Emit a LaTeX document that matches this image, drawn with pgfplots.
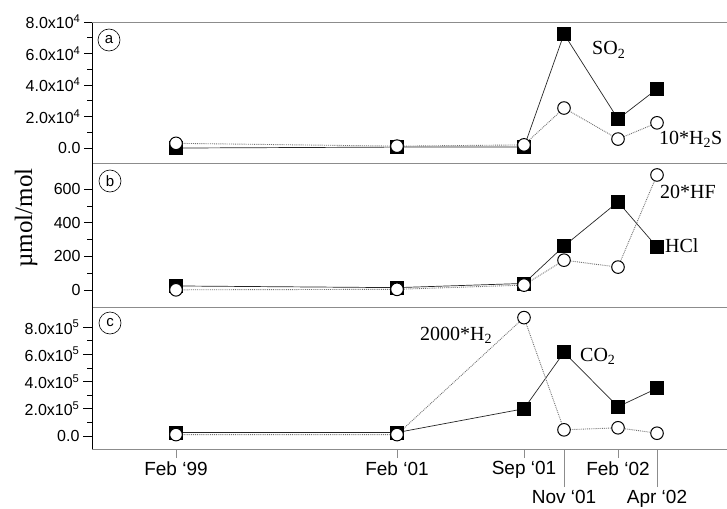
\documentclass[border=0pt]{standalone}
\usepackage{pgfplots}
\pgfplotsset{compat=1.18}
\usepackage{fontspec}
\setmainfont{Liberation Serif}
\setsansfont{Liberation Sans}
\begin{document}
\begin{tikzpicture}
\useasboundingbox (0pt,0pt) rectangle (727pt,-508pt);
\pgfplotsset{
  panel/.style={
    scale only axis, width=635pt, xmin=92, xmax=727,
    axis x line=bottom, axis y line=left,
    axis line style={-},
    x axis line style={black!45, line width=0.8pt},
    y axis line style={black, line width=1pt},
    tick align=outside, ytick pos=left,
    major tick length=8pt, minor tick length=5pt,
    minor y tick num=1,
    every tick/.style={black, line width=0.8pt},
    yticklabel style={font=\sffamily\fontsize{16}{16}\selectfont},
    /pgf/number format/assume math mode=true,
    scaled y ticks=false,
    xtick=\empty,
    clip=false,
  },
  sq/.style={black!85, line width=0.7pt, mark=square*, mark size=6.5pt, mark options={solid, fill=black, draw=black}},
  ci/.style={black!55, line width=0.9pt, densely dotted, mark=*, mark size=6.3pt, mark options={solid, fill=white, draw=black, line width=1pt}},
}
% panel a
\begin{axis}[panel, at={(92pt,-22pt)}, anchor=north west, height=141pt,
  ymin=-9500, ymax=80000,
  ytick={0,20000,40000,60000,80000},
  yticklabels={0.0, 2.0x10\textsuperscript{4}, 4.0x10\textsuperscript{4}, 6.0x10\textsuperscript{4}, 8.0x10\textsuperscript{4}}]
\addplot[sq] coordinates {(176,0) (397,600) (524,600) (564,72400) (618,18400) (657,37500)};
\addplot[ci] coordinates {(176,3000) (397,1200) (524,2000) (564,25400) (618,5700) (657,16000)};
\end{axis}
% panel b
\begin{axis}[panel, at={(92pt,-163pt)}, anchor=north west, height=144pt,
  ymin=-100, ymax=755,
  ytick={0,200,400,600},
  yticklabels={0,200,400,600}]
\addplot[sq] coordinates {(176,25) (397,15) (524,40) (564,262) (618,524) (657,256)};
\addplot[ci] coordinates {(176,2) (397,5) (524,30) (564,178) (618,137) (657,684)};
\end{axis}
% panel c
\begin{axis}[panel, at={(92pt,-307pt)}, anchor=north west, height=142pt,
  ymin=-96000, ymax=948000,
  ytick={0,200000,400000,600000,800000},
  yticklabels={0.0, 2.0x10\textsuperscript{5}, 4.0x10\textsuperscript{5}, 6.0x10\textsuperscript{5}, 8.0x10\textsuperscript{5}},
  major tick length=9pt,
  xtick={176,397,524,618},
  xticklabels={Feb `99, Feb `01, Sep `01, Feb `02},
  xticklabel style={font=\sffamily\fontsize{19}{19}\selectfont},
  x tick style={black!45, line width=0.8pt},
  extra x ticks={564,657},
  extra x tick labels={Nov `01, Apr `02},
  extra x tick style={major tick length=38pt, x tick style={black!45, line width=0.8pt}},
  ]
\addplot[sq] coordinates {(176,25000) (397,25000) (524,200000) (564,615000) (618,215000) (657,350000)};
\addplot[ci] coordinates {(176,10000) (397,10000) (524,870000) (564,45000) (618,60000) (657,20000)};
\end{axis}
\draw[black!45, line width=0.8pt] (92pt,-22pt) -- (727pt,-22pt);
% annotations
\begin{scope}[every node/.style={font=\fontsize{20}{20}\selectfont, inner sep=0pt}]
\node[anchor=base west] at (592pt,-55pt) {SO\textsubscript{2}};
\node[anchor=base west] at (659pt,-144pt) {10*H\textsubscript{2}S};
\node[anchor=base west] at (660pt,-198pt) {20*HF};
\node[anchor=base west] at (665pt,-252pt) {HCl};
\node[anchor=base west] at (420pt,-340pt) {2000*H\textsubscript{2}};
\node[anchor=base west] at (580pt,-361pt) {CO\textsubscript{2}};
\end{scope}
\node[rotate=90, font=\fontsize{25}{25}\selectfont] at (26pt,-218pt) {µmol/mol};
\begin{scope}[every node/.style={circle, draw, line width=0.6pt, minimum size=22pt, inner sep=0pt, font=\sffamily\fontsize{15}{15}\selectfont}]
\node at (109pt,-40pt) {a};
\node at (110pt,-181pt) {b};
\node at (110pt,-323pt) {c};
\end{scope}
\end{tikzpicture}
\end{document}
